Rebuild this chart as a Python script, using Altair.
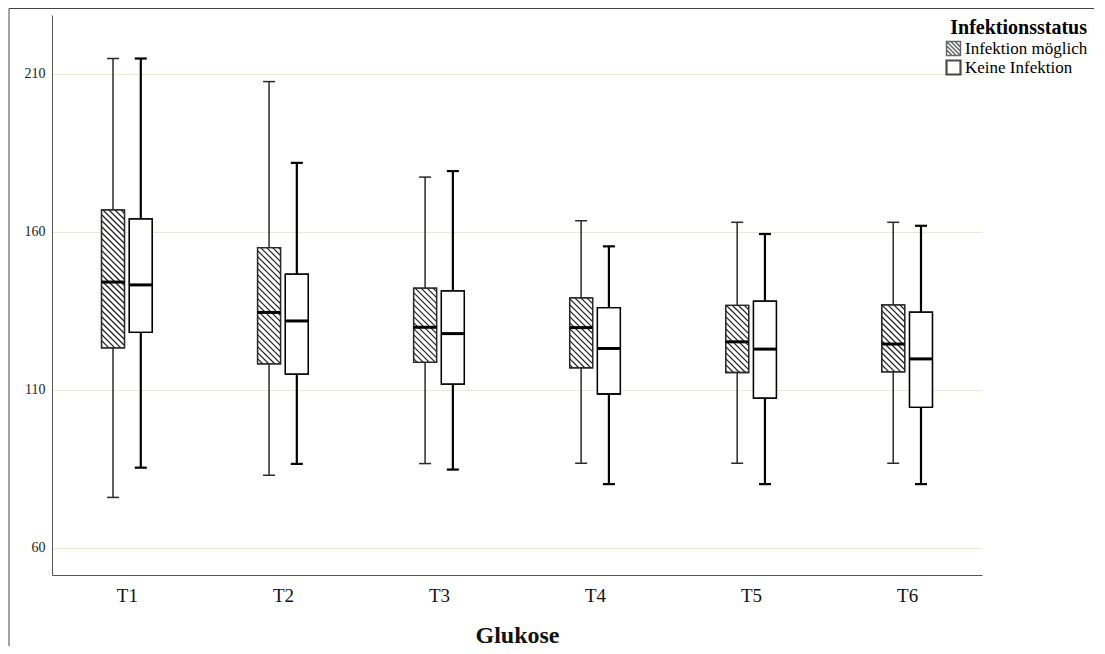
import math
import altair as alt
import pandas as pd

# ---------------- data ----------------
categories = ["T1", "T2", "T3", "T4", "T5", "T6"]
groups = ["Infektion möglich", "Keine Infektion"]

inf_low = [76.0, 83.0, 86.7, 86.8, 86.8, 86.8]
inf_q1 = [123.3, 118.2, 118.7, 117.0, 115.5, 115.7]
inf_median = [144.1, 134.5, 129.8, 129.7, 125.2, 124.5]
inf_q3 = [166.9, 155.0, 142.2, 139.1, 136.7, 136.9]
inf_high = [214.8, 207.5, 177.3, 163.5, 163.0, 163.0]

kein_low = [85.4, 86.6, 84.8, 80.2, 80.2, 80.2]
kein_q1 = [128.2, 115.0, 111.8, 108.7, 107.4, 104.5]
kein_median = [143.2, 131.8, 127.8, 123.1, 122.9, 119.8]
kein_q3 = [164.1, 146.6, 141.3, 136.0, 138.1, 134.6]
kein_high = [214.8, 181.8, 179.2, 155.4, 159.3, 161.9]

y_ticks = [60, 110, 160, 210]

# ---------------- layout constants ----------------
W, H = 930, 560
X_DOMAIN = [0.02, 5.98]
Y_DOMAIN = [51.46, 228.56]
BOX_HALF = 11.5
CAP_HALF = 6
GROUP_OFF = 0.089
HATCH_PERIOD = 6.0
FONT = "Liberation Serif"

kx = W / (X_DOMAIN[1] - X_DOMAIN[0])
ky = H / (Y_DOMAIN[1] - Y_DOMAIN[0])

rows = []
for i, cat in enumerate(categories):
    rows.append(dict(cat=cat, group=groups[0], pos=i + 0.5 - GROUP_OFF,
                     low=inf_low[i], q1=inf_q1[i], median=inf_median[i],
                     q3=inf_q3[i], high=inf_high[i]))
    rows.append(dict(cat=cat, group=groups[1], pos=i + 0.5 + GROUP_OFF,
                     low=kein_low[i], q1=kein_q1[i], median=kein_median[i],
                     q3=kein_q3[i], high=kein_high[i]))
df = pd.DataFrame(rows)

# diagonal hatching ("\\\") inside the boxes of the first group
hatch = []
for r in rows:
    if r["group"] != groups[0]:
        continue
    cx = (r["pos"] - X_DOMAIN[0]) * kx
    L, R = cx - BOX_HALF, cx + BOX_HALF
    T = (Y_DOMAIN[1] - r["q3"]) * ky
    B = (Y_DOMAIN[1] - r["q1"]) * ky
    k0 = math.floor((L - B) / HATCH_PERIOD)
    k1 = math.ceil((R - T) / HATCH_PERIOD)
    for k in range(k0, k1 + 1):
        c = k * HATCH_PERIOD
        xs_ = max(L, T + c)
        xe_ = min(R, B + c)
        if xe_ - xs_ > 0.4:
            hatch.append(dict(
                hx1=xs_ / kx + X_DOMAIN[0], hx2=xe_ / kx + X_DOMAIN[0],
                hy1=Y_DOMAIN[1] - (xs_ - c) / ky, hy2=Y_DOMAIN[1] - (xe_ - c) / ky))
hatch_df = pd.DataFrame(hatch)

# legend symbols
hl = []
for c in [-1.2, -0.6, 0.0, 0.6, 1.2]:
    if c >= 0:
        hl.append(f"M{c-1:.2f},-1L1,{1-c:.2f}")
    else:
        hl.append(f"M-1,{-1-c:.2f}L{1+c:.2f},1")
HATCH_SYMBOL = "M-1,-1H1V1H-1Z" + "".join(hl)
SQUARE_SYMBOL = "M-1,-1H1V1H-1Z"

# ---------------- scales / axes ----------------
xscale = alt.Scale(domain=X_DOMAIN, nice=False, zero=False)
yscale = alt.Scale(domain=Y_DOMAIN, nice=False, zero=False)
xaxis = alt.Axis(values=[i + 0.5 for i in range(len(categories))],
                 labelExpr="'T' + (datum.value + 0.5)",
                 ticks=False, grid=False, domainColor="#555555", domainWidth=1,
                 labelFont=FONT, labelFontSize=19, labelColor="#111111", labelPadding=11,
                 titleFont=FONT, titleFontSize=24, titleFontWeight="bold",
                 titleColor="#111111", titlePadding=18)
yaxis = alt.Axis(values=y_ticks, ticks=False, grid=True, gridColor="#ebe9d6", gridWidth=1,
                 domainColor="#555555", domainWidth=1,
                 labelFont=FONT, labelFontSize=14, labelColor="#222222", labelPadding=7,
                 title=None)


def X(f):
    return alt.X(f"{f}:Q", scale=xscale, axis=xaxis, title="Glukose")


def Y(f):
    return alt.Y(f"{f}:Q", scale=yscale, axis=yaxis)


wscale = alt.Scale(domain=groups, range=[1.5, 2.2])
cscale = alt.Scale(domain=groups, range=["#2a2a2a", "#000000"])

base = alt.Chart(df)

legend_pts = base.mark_point(filled=False, size=10, stroke="black", strokeWidth=1.2).encode(
    x=X("pos"), y=Y("median"),
    shape=alt.Shape("group:N",
                    scale=alt.Scale(domain=groups, range=[HATCH_SYMBOL, SQUARE_SYMBOL]),
                    legend=alt.Legend(title="Infektionsstatus", orient="none",
                                      legendX=893, legendY=3, padding=0,
                                      titleFont=FONT, titleFontSize=20, titleFontWeight="bold",
                                      titleColor="black", titleAnchor="end", titlePadding=2,
                                      labelFont=FONT, labelFontSize=17, labelColor="black",
                                      labelOffset=3, symbolSize=196, symbolStrokeWidth=1.2,
                                      symbolStrokeColor="black", symbolFillColor="white",
                                      rowPadding=-3)))

boxes = base.mark_rect(fill="white", strokeWidth=1.3, xOffset=-BOX_HALF, x2Offset=BOX_HALF).encode(
    x=X("pos"), x2="pos", y=Y("q1"), y2="q3",
    stroke=alt.Stroke("group:N", scale=cscale, legend=None))

hatch_lines = alt.Chart(hatch_df).mark_rule(color="#1e1e1e", strokeWidth=1.2).encode(
    x=X("hx1"), x2="hx2", y=Y("hy1"), y2="hy2")

box_outline = base.mark_rect(fill="transparent", strokeWidth=1.3, xOffset=-BOX_HALF,
                             x2Offset=BOX_HALF).encode(
    x=X("pos"), x2="pos", y=Y("q1"), y2="q3",
    stroke=alt.Stroke("group:N", scale=cscale, legend=None))

whisk_hi = base.mark_rule().encode(
    x=X("pos"), y=Y("q3"), y2="high",
    color=alt.Color("group:N", scale=cscale, legend=None),
    strokeWidth=alt.StrokeWidth("group:N", scale=wscale, legend=None))
whisk_lo = base.mark_rule().encode(
    x=X("pos"), y=Y("low"), y2="q1",
    color=alt.Color("group:N", scale=cscale, legend=None),
    strokeWidth=alt.StrokeWidth("group:N", scale=wscale, legend=None))
cap_hi = base.mark_rule(xOffset=-CAP_HALF, x2Offset=CAP_HALF).encode(
    x=X("pos"), x2="pos", y=Y("high"),
    color=alt.Color("group:N", scale=cscale, legend=None),
    strokeWidth=alt.StrokeWidth("group:N", scale=wscale, legend=None))
cap_lo = base.mark_rule(xOffset=-CAP_HALF, x2Offset=CAP_HALF).encode(
    x=X("pos"), x2="pos", y=Y("low"),
    color=alt.Color("group:N", scale=cscale, legend=None),
    strokeWidth=alt.StrokeWidth("group:N", scale=wscale, legend=None))
medians = base.mark_rule(color="black", strokeWidth=3, xOffset=-BOX_HALF, x2Offset=BOX_HALF).encode(
    x=X("pos"), x2="pos", y=Y("median"))

one = pd.DataFrame({"k": [0]})
frame_left = alt.Chart(one).mark_rule(color="#444444", strokeWidth=1).encode(
    x=alt.value(-43), y=alt.value(-6.5), y2=alt.value(H + 71))
frame_top = alt.Chart(one).mark_rule(color="#444444", strokeWidth=1).encode(
    x=alt.value(-43), x2=alt.value(W + 112), y=alt.value(-6.5))

chart = alt.layer(
    legend_pts, boxes, hatch_lines, box_outline, whisk_hi, whisk_lo, cap_hi, cap_lo, medians,
    frame_left, frame_top,
).properties(
    width=W, height=H,
    background="white",
    padding={"left": 44, "top": 7, "right": 112, "bottom": 71},
    autosize=alt.AutoSizeParams(type="none"),
).configure_view(strokeWidth=0, stroke="transparent")

chart.save("out.html", embed_options={"renderer": "svg", "actions": False})
